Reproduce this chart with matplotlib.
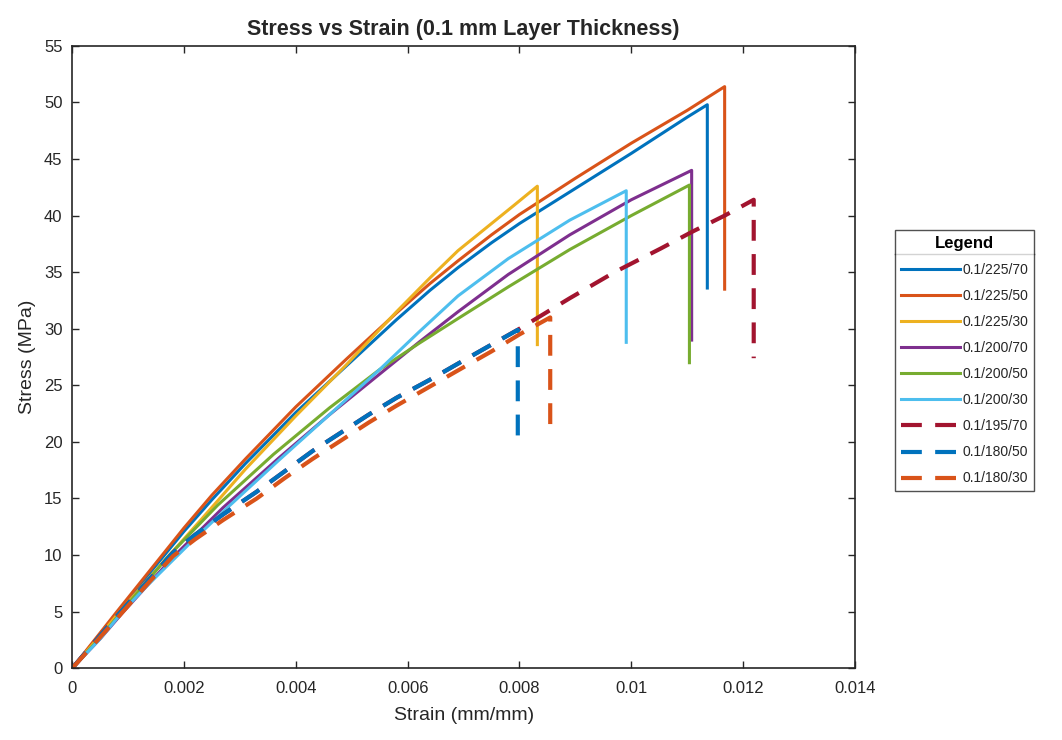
import matplotlib
matplotlib.use("Agg")
import matplotlib.pyplot as plt
from matplotlib.lines import Line2D

plt.rcParams['font.family'] = ['Liberation Sans', 'DejaVu Sans']

# strain (mm/mm) / stress (MPa) per print setting
labels = ['0.1/225/70', '0.1/225/50', '0.1/225/30', '0.1/200/70', '0.1/200/50',
          '0.1/200/30', '0.1/195/70', '0.1/180/50', '0.1/180/30']

strain_225_70 = [0, 0.0004, 0.0008, 0.0014, 0.002, 0.0025, 0.0031, 0.004, 0.0049, 0.0058, 0.0064,
                 0.0069, 0.0075, 0.008, 0.009, 0.010, 0.011, 0.01136, 0.01136]
stress_225_70 = [0, 2.4, 4.9, 8.5, 12.1, 14.9, 18.1, 22.6, 26.7, 30.8, 33.4,
                 35.4, 37.6, 39.3, 42.4, 45.5, 48.7, 49.8, 33.6]

strain_225_50 = [0, 0.0004, 0.0008, 0.0014, 0.002, 0.0025, 0.0031, 0.004, 0.0049, 0.0058, 0.0064,
                 0.0069, 0.0075, 0.008, 0.009, 0.010, 0.011, 0.01167, 0.01167]
stress_225_50 = [0, 2.5, 5.0, 8.7, 12.4, 15.3, 18.5, 23.1, 27.3, 31.4, 34.0,
                 36.0, 38.3, 40.1, 43.3, 46.4, 49.3, 51.4, 33.5]

strain_225_30 = [0, 0.0004, 0.0008, 0.0014, 0.0023, 0.0031, 0.004, 0.0049, 0.0058, 0.0064, 0.0069,
                 0.0074, 0.0079, 0.00832, 0.00832]
stress_225_30 = [0, 2.3, 4.7, 8.1, 13.1, 17.6, 22.3, 26.8, 31.5, 34.5, 36.9,
                 38.9, 40.9, 42.6, 28.6]

strain_200_70 = [0, 0.0005, 0.0009, 0.0018, 0.0027, 0.0037, 0.0046, 0.0055, 0.0062, 0.0069, 0.0078,
                 0.0089, 0.010, 0.01108, 0.01108]
stress_200_70 = [0, 2.6, 4.9, 9.8, 14.2, 18.6, 22.4, 26.0, 28.8, 31.5, 34.8,
                 38.3, 41.4, 44.0, 29.0]

strain_200_50 = [0, 0.0005, 0.0009, 0.0017, 0.0026, 0.0036, 0.0046, 0.0055, 0.0062, 0.0069, 0.0078,
                 0.0089, 0.010, 0.01104, 0.01104]
stress_200_50 = [0, 2.7, 5.1, 9.8, 14.4, 18.9, 23.0, 26.4, 28.7, 30.9, 33.7,
                 37.0, 40.0, 42.7, 27.0]

strain_200_30 = [0, 0.0005, 0.0009, 0.0013, 0.0022, 0.0028, 0.0037, 0.0046, 0.0055, 0.0062, 0.0069,
                 0.0078, 0.0089, 0.00991, 0.00991]
stress_200_30 = [0, 2.6, 5.0, 7.1, 11.5, 14.3, 18.4, 22.4, 26.4, 29.7, 32.9,
                 36.2, 39.6, 42.2, 28.8]

strain_195_70 = [0, 0.0008, 0.0013, 0.0018, 0.0022, 0.0027, 0.0033, 0.0038, 0.0043, 0.0048, 0.0053,
                 0.0058, 0.0064, 0.007, 0.0075, 0.008, 0.0089, 0.0097, 0.01053, 0.0111, 0.01167,
                 0.01219, 0.01219]
stress_195_70 = [0, 4.6, 7.4, 10.2, 11.8, 13.6, 15.6, 17.4, 19.2, 20.8, 22.4,
                 23.9, 25.5, 27.2, 28.6, 30.0, 32.7, 35.0, 37.1, 38.6, 40.0,
                 41.4, 27.4]

strain_180_50 = [0, 0.0008, 0.0013, 0.0018, 0.0022, 0.0027, 0.0033, 0.0038, 0.0043, 0.0048, 0.0053,
                 0.0058, 0.0064, 0.007, 0.0075, 0.00797, 0.00797]
stress_180_50 = [0, 4.6, 7.4, 10.2, 11.8, 13.6, 15.6, 17.4, 19.2, 20.8, 22.4,
                 23.9, 25.5, 27.2, 28.6, 29.9, 19.9]

strain_180_30 = [0, 0.0008, 0.0013, 0.0018, 0.0022, 0.0027, 0.0033, 0.0038, 0.0043, 0.0048, 0.0053,
                 0.0058, 0.0064, 0.007, 0.0075, 0.008, 0.00855, 0.00855]
stress_180_30 = [0, 4.4, 7.2, 9.9, 11.4, 13.1, 15.0, 16.8, 18.5, 20.1, 21.7,
                 23.2, 24.9, 26.6, 28.0, 29.5, 31.0, 21.2]

xticks = [0, 0.002, 0.004, 0.006, 0.008, 0.010, 0.012, 0.014]
xticklabels = ['0', '0.002', '0.004', '0.006', '0.008', '0.01', '0.012', '0.014']
yticks = list(range(0, 56, 5))

series = [
    (strain_225_70, stress_225_70, '#0072BD', '-'),
    (strain_225_50, stress_225_50, '#D95319', '-'),
    (strain_225_30, stress_225_30, '#EDB120', '-'),
    (strain_200_70, stress_200_70, '#7E2F8E', '-'),
    (strain_200_50, stress_200_50, '#77AC30', '-'),
    (strain_200_30, stress_200_30, '#4DBEEE', '-'),
    (strain_195_70, stress_195_70, '#A2142F', '--'),
    (strain_180_50, stress_180_50, '#0072BD', '--'),
    (strain_180_30, stress_180_30, '#D95319', '--'),
]

fig = plt.figure(figsize=(10.62, 7.40), dpi=100)
ax = fig.add_axes([0.068, 0.097, 0.737, 0.841])

for (x, y, c, ls), lab in zip(series, labels):
    if ls == '--':
        ax.plot(x, y, color=c, lw=3.0, dashes=(5.0, 3.2), label=lab)
    else:
        ax.plot(x, y, color=c, lw=2.2, label=lab)

ax.set_xlim(0, 0.014)
ax.set_ylim(0, 55)
ax.set_xticks(xticks)
ax.set_xticklabels(xticklabels)
ax.set_yticks(yticks)
ax.tick_params(direction='in', length=5, width=1, colors='#262626', labelsize=12,
               top=True, right=True)
ax.tick_params(axis='x', pad=9)
ax.tick_params(axis='y', pad=7)
for sp in ax.spines.values():
    sp.set_color('#262626')
    sp.set_linewidth(1.2)

ax.set_xlabel('Strain (mm/mm)', fontsize=14, color='#262626', labelpad=8)
ax.set_ylabel('Stress (MPa)', fontsize=14, color='#262626', labelpad=6)
ax.set_title('Stress vs Strain (0.1 mm Layer Thickness)', fontsize=15.5, fontweight='bold',
             color='#262626', pad=8)

leg = fig.legend(loc='upper left', bbox_to_anchor=(0.8427, 0.689), bbox_transform=fig.transFigure,
                 title='Legend', frameon=True, fancybox=False, fontsize=10,
                 title_fontproperties={'size': 12, 'weight': 'bold'},
                 edgecolor='#262626', handlelength=4.3, handletextpad=0.15, labelspacing=0.87,
                 borderpad=0.4, borderaxespad=0)
leg.get_frame().set_linewidth(1.0)
for t in leg.get_texts():
    t.set_color('#262626')

# separator under legend title
fig.canvas.draw()
r = fig.canvas.get_renderer()
fb = leg.get_frame().get_window_extent(r)
tb = leg.get_title().get_window_extent(r)
ysep = (tb.y0 - 3) / fig.bbox.height
fig.add_artist(Line2D([fb.x0 / fig.bbox.width, fb.x1 / fig.bbox.width], [ysep, ysep],
                      color='#262626', lw=1.0, transform=fig.transFigure))

fig.savefig('out.png', dpi=100)
